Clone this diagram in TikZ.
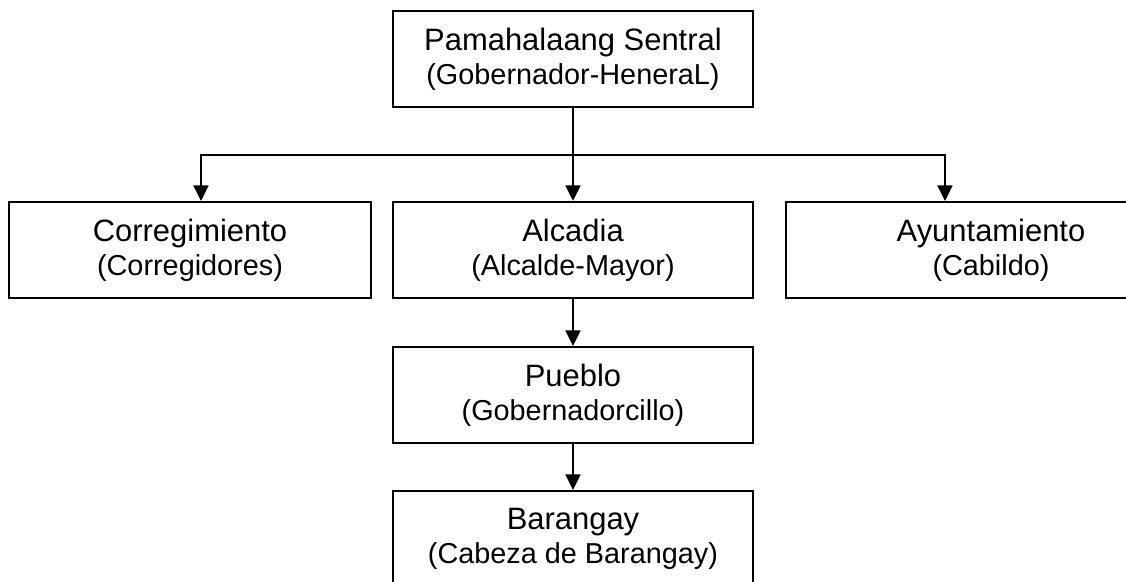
\documentclass[tikz,border=0pt]{standalone}
\usepackage{fontspec}
\setmainfont{Liberation Sans}
\usetikzlibrary{arrows.meta}

\newcommand{\titlefont}{\fontsize{22}{24}\selectfont}
\newcommand{\subfont}{\fontsize{20.5}{24}\selectfont}
\newcommand{\orgtext}[2]{{\titlefont #1}\\{\subfont #2}}

\begin{document}
\begin{tikzpicture}[x=0.025cm,y=-0.025cm,
        office/.style={draw,line width=1.6pt,minimum width=9cm,minimum height=2.4cm,
            align=center,inner sep=0pt,font=\subfont},
        link/.style={line width=1.6pt},
        arrow/.style={link,-{Triangle[width=10.5pt,length=11pt]}}]
        \useasboundingbox (0,0) rectangle (1126,582);

        \node[office] (sentral) at (573, 59) {\orgtext{Pamahalaang Sentral}{(Gobernador-HeneraL)}};

        \node[office,minimum width=9.05cm] (corr) at (190, 250) {\orgtext{Corregimiento}{(Corregidores)}};
        \node[office] (alcadia) at (573, 250) {\orgtext{Alcadia}{(Alcalde-Mayor)}};
        \node[office,minimum width=10.25cm] (ayunt) at (991, 250) {\orgtext{Ayuntamiento}{(Cabildo)}};

        \node[office] (pueblo) at (573, 395) {\orgtext{Pueblo}{(Gobernadorcillo)}};
        \node[office] (barangay) at (573, 539) {\orgtext{Barangay}{(Cabeza de Barangay)}};

        \coordinate (split) at (573, 155);
        \draw [link] (sentral) -- (split);
        \draw [arrow] (split) -- (alcadia);
        \draw [arrow] (split) -| ([xshift=0.275cm]corr.north);
        \draw [arrow] (split) -| ([xshift=-1.15cm]ayunt.north);

        \draw [arrow] (alcadia) -- (pueblo);
        \draw [arrow] (pueblo) -- (barangay);
    \end{tikzpicture}
\end{document}
